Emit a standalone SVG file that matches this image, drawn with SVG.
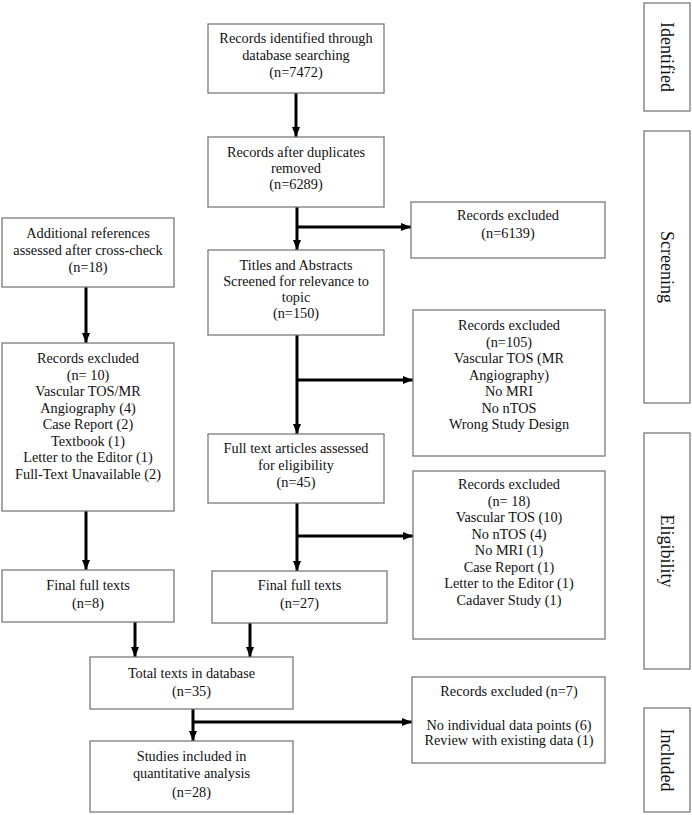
<svg xmlns="http://www.w3.org/2000/svg" width="692" height="815" viewBox="0 0 692 815">
<style>
.box{fill:#fff;stroke:#7a7a7a;stroke-width:1.3}
.t{font-family:"Liberation Serif","Times New Roman",serif;font-size:14.3px;fill:#111;text-anchor:middle}
.s{font-family:"Liberation Serif","Times New Roman",serif;font-size:18px;fill:#111;text-anchor:middle;dominant-baseline:central}
.c{stroke:#000;stroke-width:3;fill:none}
</style>
<defs>
<marker id="ah" markerUnits="userSpaceOnUse" markerWidth="10" markerHeight="10" viewBox="0 0 10 10" refX="10" refY="5" orient="auto">
<path d="M0,1 L10,5 L0,9 Z" fill="#000"/>
</marker>
</defs>
<rect width="692" height="815" fill="#fff"/>
<g id="connectors">
<line class="c" x1="296" y1="93" x2="296" y2="137" marker-end="url(#ah)"/>
<line class="c" x1="297" y1="207" x2="297" y2="250" marker-end="url(#ah)"/>
<line class="c" x1="297" y1="227" x2="411" y2="227" marker-end="url(#ah)"/>
<line class="c" x1="297" y1="335" x2="297" y2="434" marker-end="url(#ah)"/>
<line class="c" x1="297" y1="380" x2="413" y2="380" marker-end="url(#ah)"/>
<line class="c" x1="297" y1="503" x2="297" y2="571" marker-end="url(#ah)"/>
<line class="c" x1="297" y1="536" x2="413" y2="536" marker-end="url(#ah)"/>
<line class="c" x1="86" y1="287" x2="86" y2="343" marker-end="url(#ah)"/>
<line class="c" x1="86" y1="511" x2="86" y2="570" marker-end="url(#ah)"/>
<line class="c" x1="135" y1="622" x2="135" y2="657" marker-end="url(#ah)"/>
<line class="c" x1="250" y1="623" x2="250" y2="657" marker-end="url(#ah)"/>
<line class="c" x1="193" y1="709" x2="193" y2="741" marker-end="url(#ah)"/>
<line class="c" x1="193" y1="722" x2="412" y2="722" marker-end="url(#ah)"/>
</g>
<g id="n-identified">
<rect class="box" x="208" y="24" width="176" height="69"/>
<text class="t" x="296" y="43">Records identified through</text>
<text class="t" x="296" y="60">database searching</text>
<text class="t" x="296" y="77">(n=7472)</text>
</g>
<g id="n-dup">
<rect class="box" x="208" y="137" width="176" height="70"/>
<text class="t" x="296" y="157">Records after duplicates</text>
<text class="t" x="296" y="173">removed</text>
<text class="t" x="296" y="189">(n=6289)</text>
</g>
<g id="n-excl6139">
<rect class="box" x="411" y="202" width="194" height="56"/>
<text class="t" x="508" y="220">Records excluded</text>
<text class="t" x="508" y="238">(n=6139)</text>
</g>
<g id="n-titles">
<rect class="box" x="208" y="250" width="176" height="85"/>
<text class="t" x="296" y="270">Titles and Abstracts</text>
<text class="t" x="296" y="286">Screened for relevance to</text>
<text class="t" x="296" y="302">topic</text>
<text class="t" x="296" y="318">(n=150)</text>
</g>
<g id="n-excl105">
<rect class="box" x="413" y="310" width="192" height="146"/>
<text class="t" x="509" y="330">Records excluded</text>
<text class="t" x="509" y="346.5">(n=105)</text>
<text class="t" x="509" y="363">Vascular TOS (MR</text>
<text class="t" x="509" y="379.5">Angiography)</text>
<text class="t" x="509" y="396">No MRI</text>
<text class="t" x="509" y="412.5">No nTOS</text>
<text class="t" x="509" y="429">Wrong Study Design</text>
</g>
<g id="n-additional">
<rect class="box" x="2" y="218" width="172" height="69"/>
<text class="t" x="88" y="238">Additional references</text>
<text class="t" x="88" y="255">assessed after cross-check</text>
<text class="t" x="88" y="272">(n=18)</text>
</g>
<g id="n-excl10">
<rect class="box" x="2" y="343" width="172" height="168"/>
<text class="t" x="88" y="363">Records excluded</text>
<text class="t" x="88" y="379.5">(n= 10)</text>
<text class="t" x="88" y="396">Vascular TOS/MR</text>
<text class="t" x="88" y="412.5">Angiography (4)</text>
<text class="t" x="88" y="429">Case Report (2)</text>
<text class="t" x="88" y="445.5">Textbook (1)</text>
<text class="t" x="88" y="462">Letter to the Editor (1)</text>
<text class="t" x="88" y="478.5">Full-Text Unavailable (2)</text>
</g>
<g id="n-final8">
<rect class="box" x="2" y="570" width="172" height="52"/>
<text class="t" x="88" y="590">Final full texts</text>
<text class="t" x="88" y="608">(n=8)</text>
</g>
<g id="n-fulltext">
<rect class="box" x="208" y="434" width="176" height="69"/>
<text class="t" x="296" y="453">Full text articles assessed</text>
<text class="t" x="296" y="470">for eligibility</text>
<text class="t" x="296" y="487">(n=45)</text>
</g>
<g id="n-excl18">
<rect class="box" x="413" y="471" width="192" height="168"/>
<text class="t" x="509" y="489">Records excluded</text>
<text class="t" x="509" y="505.5">(n= 18)</text>
<text class="t" x="509" y="522">Vascular TOS (10)</text>
<text class="t" x="509" y="538.5">No nTOS (4)</text>
<text class="t" x="509" y="555">No MRI (1)</text>
<text class="t" x="509" y="571.5">Case Report (1)</text>
<text class="t" x="509" y="588">Letter to the Editor (1)</text>
<text class="t" x="509" y="604.5">Cadaver Study (1)</text>
</g>
<g id="n-final27">
<rect class="box" x="212" y="571" width="175" height="52"/>
<text class="t" x="299.5" y="590">Final full texts</text>
<text class="t" x="299.5" y="608">(n=27)</text>
</g>
<g id="n-total">
<rect class="box" x="90" y="657" width="203" height="52"/>
<text class="t" x="191.5" y="678">Total texts in database</text>
<text class="t" x="191.5" y="696">(n=35)</text>
</g>
<g id="n-excl7">
<rect class="box" x="412" y="677" width="193" height="86"/>
<text class="t" x="509" y="696">Records excluded (n=7)</text>
<text class="t" x="509" y="730">No individual data points (6)</text>
<text class="t" x="509" y="745">Review with existing data (1)</text>
</g>
<g id="n-studies">
<rect class="box" x="90" y="741" width="203" height="71"/>
<text class="t" x="191.5" y="761">Studies included in</text>
<text class="t" x="191.5" y="778">quantitative analysis</text>
<text class="t" x="191.5" y="797">(n=28)</text>
</g>
<g id="stage-identified">
<rect class="box" x="644" y="3" width="46" height="108"/>
<text class="s" transform="translate(667,57) rotate(90)">Identified</text>
</g>
<g id="stage-screening">
<rect class="box" x="644" y="131" width="46" height="272"/>
<text class="s" transform="translate(667,267) rotate(90)">Screening</text>
</g>
<g id="stage-eligibility">
<rect class="box" x="644" y="433" width="46" height="236"/>
<text class="s" transform="translate(667,551) rotate(90)">Eligibility</text>
</g>
<g id="stage-included">
<rect class="box" x="644" y="708" width="46" height="104"/>
<text class="s" transform="translate(667,760) rotate(90)">Included</text>
</g>
</svg>
